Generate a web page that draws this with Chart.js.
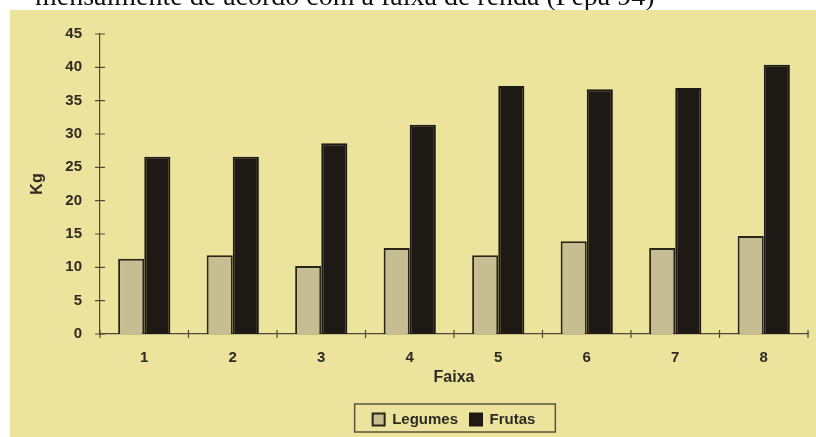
<!DOCTYPE html>
<html lang="pt">
<head>
  <meta charset="UTF-8">
  <title>Legumes e Frutas por faixa de renda</title>
  <script src="https://cdn.jsdelivr.net/npm/chart.js"></script>
  <style>
    html, body { margin: 0; padding: 0; background: #ffffff; }
    #wrap { width: 816px; height: 437px; }
  </style>
</head>
<body>
  <div id="wrap"><canvas id="grafico" width="816" height="437"></canvas></div>

  <script>
    const faixas = ['1', '2', '3', '4', '5', '6', '7', '8'];
    const legumes = [11.3, 11.8, 10.2, 12.9, 11.8, 13.9, 12.9, 14.7];
    const frutas = [26.6, 26.6, 28.6, 31.4, 37.2, 36.7, 36.9, 40.4];
    const legenda = ['Legumes', 'Frutas'];
    const legenda_topo = 'mensalmente de acordo com a faixa de renda (Pepa 94)';

    const corTexto = '#2f2b22';
    const corEixo = '#4f4a36';
    const fonte = 'Arial, "Liberation Sans", sans-serif';

    // fundo branco + papel amarelo, e a linha de texto cortada no topo
    const fundoPapel = {
      id: 'fundoPapel',
      beforeDraw(chart) {
        const ctx = chart.ctx;
        ctx.save();
        ctx.fillStyle = '#ffffff';
        ctx.fillRect(0, 0, chart.width, chart.height);
        ctx.fillStyle = '#ece49d';
        ctx.fillRect(10, 10, chart.width - 10, chart.height - 10);
        ctx.beginPath();
        ctx.rect(0, 0, chart.width, 10);
        ctx.clip();
        ctx.fillStyle = '#111111';
        ctx.font = '28px "Liberation Serif", "Times New Roman", serif';
        ctx.textBaseline = 'alphabetic';
        ctx.fillText(legenda_topo, 35, 5);
        ctx.restore();
      }
    };

    // tracinhos cruzando os eixos e moldura da legenda
    const marcasEixos = {
      id: 'marcasEixos',
      afterDraw(chart) {
        const ctx = chart.ctx;
        const sx = chart.scales.x;
        const sy = chart.scales.y;
        const area = chart.chartArea;
        ctx.save();
        ctx.strokeStyle = corEixo;
        ctx.lineWidth = 1.2;
        ctx.beginPath();
        sy.ticks.forEach(t => {
          const y = sy.getPixelForValue(t.value);
          ctx.moveTo(area.left - 5, y);
          ctx.lineTo(area.left + 5, y);
        });
        for (let i = 0; i <= faixas.length; i++) {
          const x = sx.getPixelForValue(i - 0.5);
          ctx.moveTo(x, area.bottom - 4);
          ctx.lineTo(x, area.bottom + 4);
        }
        ctx.stroke();

        const boxes = chart.legend.legendHitBoxes;
        if (boxes && boxes.length) {
          const l = Math.min(...boxes.map(b => b.left)) - 18;
          const r = Math.max(...boxes.map(b => b.left + b.width)) + 20;
          const t = Math.min(...boxes.map(b => b.top)) - 8;
          const btm = Math.max(...boxes.map(b => b.top + b.height)) + 5;
          ctx.strokeStyle = '#5a5440';
          ctx.lineWidth = 1.5;
          ctx.strokeRect(l, t, r - l, btm - t);
        }
        ctx.restore();
      }
    };

    const ctx = document.getElementById('grafico').getContext('2d');
    new Chart(ctx, {
      type: 'bar',
      data: {
        labels: faixas,
        datasets: [{
          label: legenda[0],
          data: legumes,
          backgroundColor: '#c6be92',
          borderColor: '#2a2519',
          borderWidth: 2,
          borderSkipped: 'bottom'
        }, {
          label: legenda[1],
          data: frutas,
          backgroundColor: '#1d1914',
          borderColor: '#1d1914',
          borderWidth: 2,
          borderSkipped: 'bottom'
        }]
      },
      options: {
        responsive: false,
        animation: false,
        datasets: {
          bar: { categoryPercentage: 0.59, barPercentage: 1.0 }
        },
        layout: { padding: { left: 10, right: 8, top: 34, bottom: 0 } },
        plugins: {
          tooltip: { enabled: false },
          legend: {
            display: true,
            position: 'bottom',
            fullSize: false,
            labels: {
              boxWidth: 12,
              boxHeight: 12,
              padding: 12,
              color: corTexto,
              font: { family: fonte, size: 15, weight: 'bold' }
            }
          }
        },
        scales: {
          x: {
            afterFit(scale) { scale.height = 66; },
            grid: { display: false, drawTicks: false },
            border: { display: true, color: corEixo, width: 1.2 },
            ticks: {
              padding: 15,
              color: corTexto,
              font: { family: fonte, size: 15, weight: 'bold' }
            },
            title: {
              display: true,
              text: 'Faixa',
              color: corTexto,
              padding: { top: 13, bottom: 13 },
              font: { family: fonte, size: 16, weight: 'bold' }
            }
          },
          y: {
            min: 0,
            max: 45,
            afterFit(scale) { scale.width = 90; },
            grid: { display: false, drawTicks: false },
            border: { display: true, color: corEixo, width: 1.2 },
            ticks: {
              stepSize: 5,
              padding: 18,
              color: corTexto,
              font: { family: fonte, size: 15, weight: 'bold' }
            },
            title: {
              display: true,
              text: 'Kg',
              color: corTexto,
              padding: { top: 18, bottom: 0 },
              font: { family: fonte, size: 16, weight: 'bold' }
            }
          }
        }
      },
      plugins: [fundoPapel, marcasEixos]
    });
  </script>
</body>
</html>
